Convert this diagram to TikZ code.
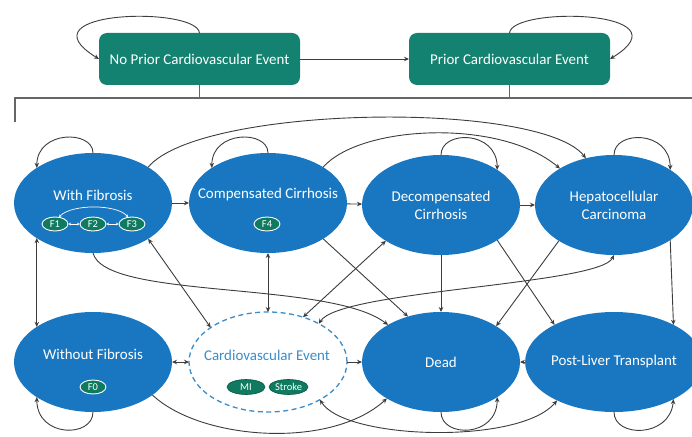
\documentclass[tikz,border=0pt]{standalone}
\usepackage{fontspec}
\setmainfont{Carlito}
\usetikzlibrary{shapes.geometric,arrows.meta}
\definecolor{ellblue}{HTML}{1877C0}
\definecolor{boxgreen}{HTML}{138270}
\definecolor{pillgreen}{HTML}{0F7A5F}
\definecolor{cvblue}{HTML}{3A8DCA}
\definecolor{linegray}{HTML}{3C3C3C}
\definecolor{brgray}{HTML}{666666}
\begin{document}
\begin{tikzpicture}[x=1bp,y=-1bp,
  state/.style={ellipse, fill=ellblue, minimum width=158bp, minimum height=100bp, inner sep=0pt, outer sep=0pt, text=white, font=\fontsize{15}{18}\selectfont, align=center},
  cvstate/.style={ellipse, draw=cvblue, fill=white, dash pattern=on 5bp off 3.5bp, line width=1.3bp, minimum width=158bp, minimum height=100bp, inner sep=0pt, outer sep=0pt},
  lbl/.style={inner sep=0pt, text=white, font=\fontsize{15}{18}\selectfont},
  topbox/.style={rectangle, rounded corners=8bp, fill=boxgreen, minimum width=201bp, minimum height=52bp, inner sep=0pt, outer sep=0pt, text=white, font=\fontsize{15}{18}\selectfont},
  pill/.style={ellipse, fill=pillgreen, draw=white, line width=0.9bp, minimum width=26bp, minimum height=14bp, inner sep=0pt, text=white, font=\fontsize{10.5}{11}\selectfont},
  cvpill/.style={ellipse, fill=pillgreen, draw=pillgreen!70!black, line width=0.6bp, minimum height=15bp, inner sep=0pt, text=white, font=\fontsize{10.5}{11}\selectfont},
  conn/.style={draw=linegray, line width=0.9bp, -{Stealth[length=5bp,width=4.5bp]}},
  bidir/.style={draw=linegray, line width=0.9bp, {Stealth[length=5bp,width=4.5bp]}-{Stealth[length=5bp,width=4.5bp]}},
  pillarr/.style={draw=white, line width=0.7bp, {Stealth[length=2.5bp,width=2.8bp]}-{Stealth[length=2.5bp,width=2.8bp]}},
  bracket/.style={draw=brgray, line width=1.3bp}
]
\useasboundingbox (0,0) rectangle (692,437);

% top boxes
\node[topbox] (NP) at (199.5,59) {No Prior Cardiovascular Event};
\node[topbox] (P) at (509.5,59) {Prior Cardiovascular Event};
\draw[conn] (NP) -- (P);
\draw[conn] (NP.north) .. controls (197,6) and (19,10) .. (NP.west);
\draw[conn] (P.north) .. controls (512,6) and (690,10) .. (P.east);

% bracket
\coordinate (bL) at (15,98);
\coordinate (bLd) at (15,122);
\coordinate (bR) at (692,98);
\draw[bracket] (bLd) -- (bL) -- (bR);
\draw[bracket] (NP.south) -- (NP.south |- bL);
\draw[bracket] (P.south) -- (P.south |- bL);

% states
\node[state] (WF) at (93,203) {};
\node[state] (CC) at (268,203) {};
\node[state] (DC) at (441,205) {Decompensated\\Cirrhosis};
\node[state] (HCC) at (614,205) {Hepatocellular\\Carcinoma};
\node[state] (WoF) at (93,362) {};
\node[cvstate] (CVE) at (268,362) {};
\node[state] (Dead) at (441,362) {Dead};
\node[state] (PLT) at (614,362) {Post-Liver Transplant};

\node[lbl] (WFl) at (93,195) {With Fibrosis};
\node[lbl] (CCl) at (268,195) {Compensated Cirrhosis};
\node[lbl] (WoFl) at (93,354) {Without Fibrosis};
\node[lbl, text=cvblue] (CVEl) at (267,355) {Cardiovascular Event};

% pills
\node[pill] (F1) at (55,224) {F1};
\node[pill] (F2) at (93,224) {F2};
\node[pill] (F3) at (132,224) {F3};
\node[pill] (F4) at (267,224) {F4};
\node[pill] (F0) at (93,387) {F0};
\node[cvpill, minimum width=38bp] (MI) at (246,387) {MI};
\node[cvpill, minimum width=39bp] (ST) at (288.5,387) {Stroke};
\draw[pillarr] (F1) -- (F2);
\draw[pillarr] (F2) -- (F3);
\draw[pillarr] (F1.60) .. controls (72,204) and (116,204) .. (F3.120);

% self loops
\draw[conn] (WF.90) .. controls (93,130) and (37,130) .. (WF.148);
\draw[conn] (CC.90) .. controls (268,130) and (212,130) .. (CC.148);
\draw[conn] (DC.90) .. controls (441,130) and (497,130) .. (DC.32);
\draw[conn] (HCC.90) .. controls (614,130) and (670,130) .. (HCC.32);
\draw[conn] (WoF.270) .. controls (93,438) and (37,438) .. (WoF.212);
\draw[conn] (Dead.270) .. controls (441,438) and (497,438) .. (Dead.328);
\draw[conn] (PLT.270) .. controls (614,438) and (670,438) .. (PLT.328);

% straight connectors
\draw[conn] (WF) -- (CC);
\draw[conn] (CC) -- (DC);
\draw[conn] (DC) -- (HCC);
\draw[conn] (PLT) -- (Dead);
\draw[conn] (CVE) -- (Dead);
\draw[bidir] (WoF) -- (CVE);
\draw[bidir] (CC) -- (CVE);
\draw[conn] (DC) -- (Dead);
\draw[bidir] (WF.212) -- (WoF.148);
\draw[bidir] (WF.327) -- (CVE.149);
\draw[conn] (CC.327) -- (Dead.126);
\draw[bidir] (CVE.52) -- (DC.213);
\draw[conn] (DC.328) -- (PLT.148);
\draw[conn] (HCC.213) -- (Dead.33);
\draw[conn] (HCC.328) -- (PLT.32);

% curved connectors
\draw[conn] (WF.33) .. controls (200,105) and (540,100) .. (HCC.121);
\draw[conn] (CC.33) .. controls (360,125) and (500,118) .. (HCC.146);
\draw[conn] (WF.270) .. controls (105,300) and (330,280) .. (Dead.145);
\draw[bidir] (CVE.37) .. controls (340,290) and (600,285) .. (HCC.270);
\draw[conn] (WoF.331) .. controls (200,440) and (330,450) .. (Dead.214);
\draw[bidir] (CVE.324) .. controls (345,440) and (520,445) .. (PLT.214);
\end{tikzpicture}
\end{document}
